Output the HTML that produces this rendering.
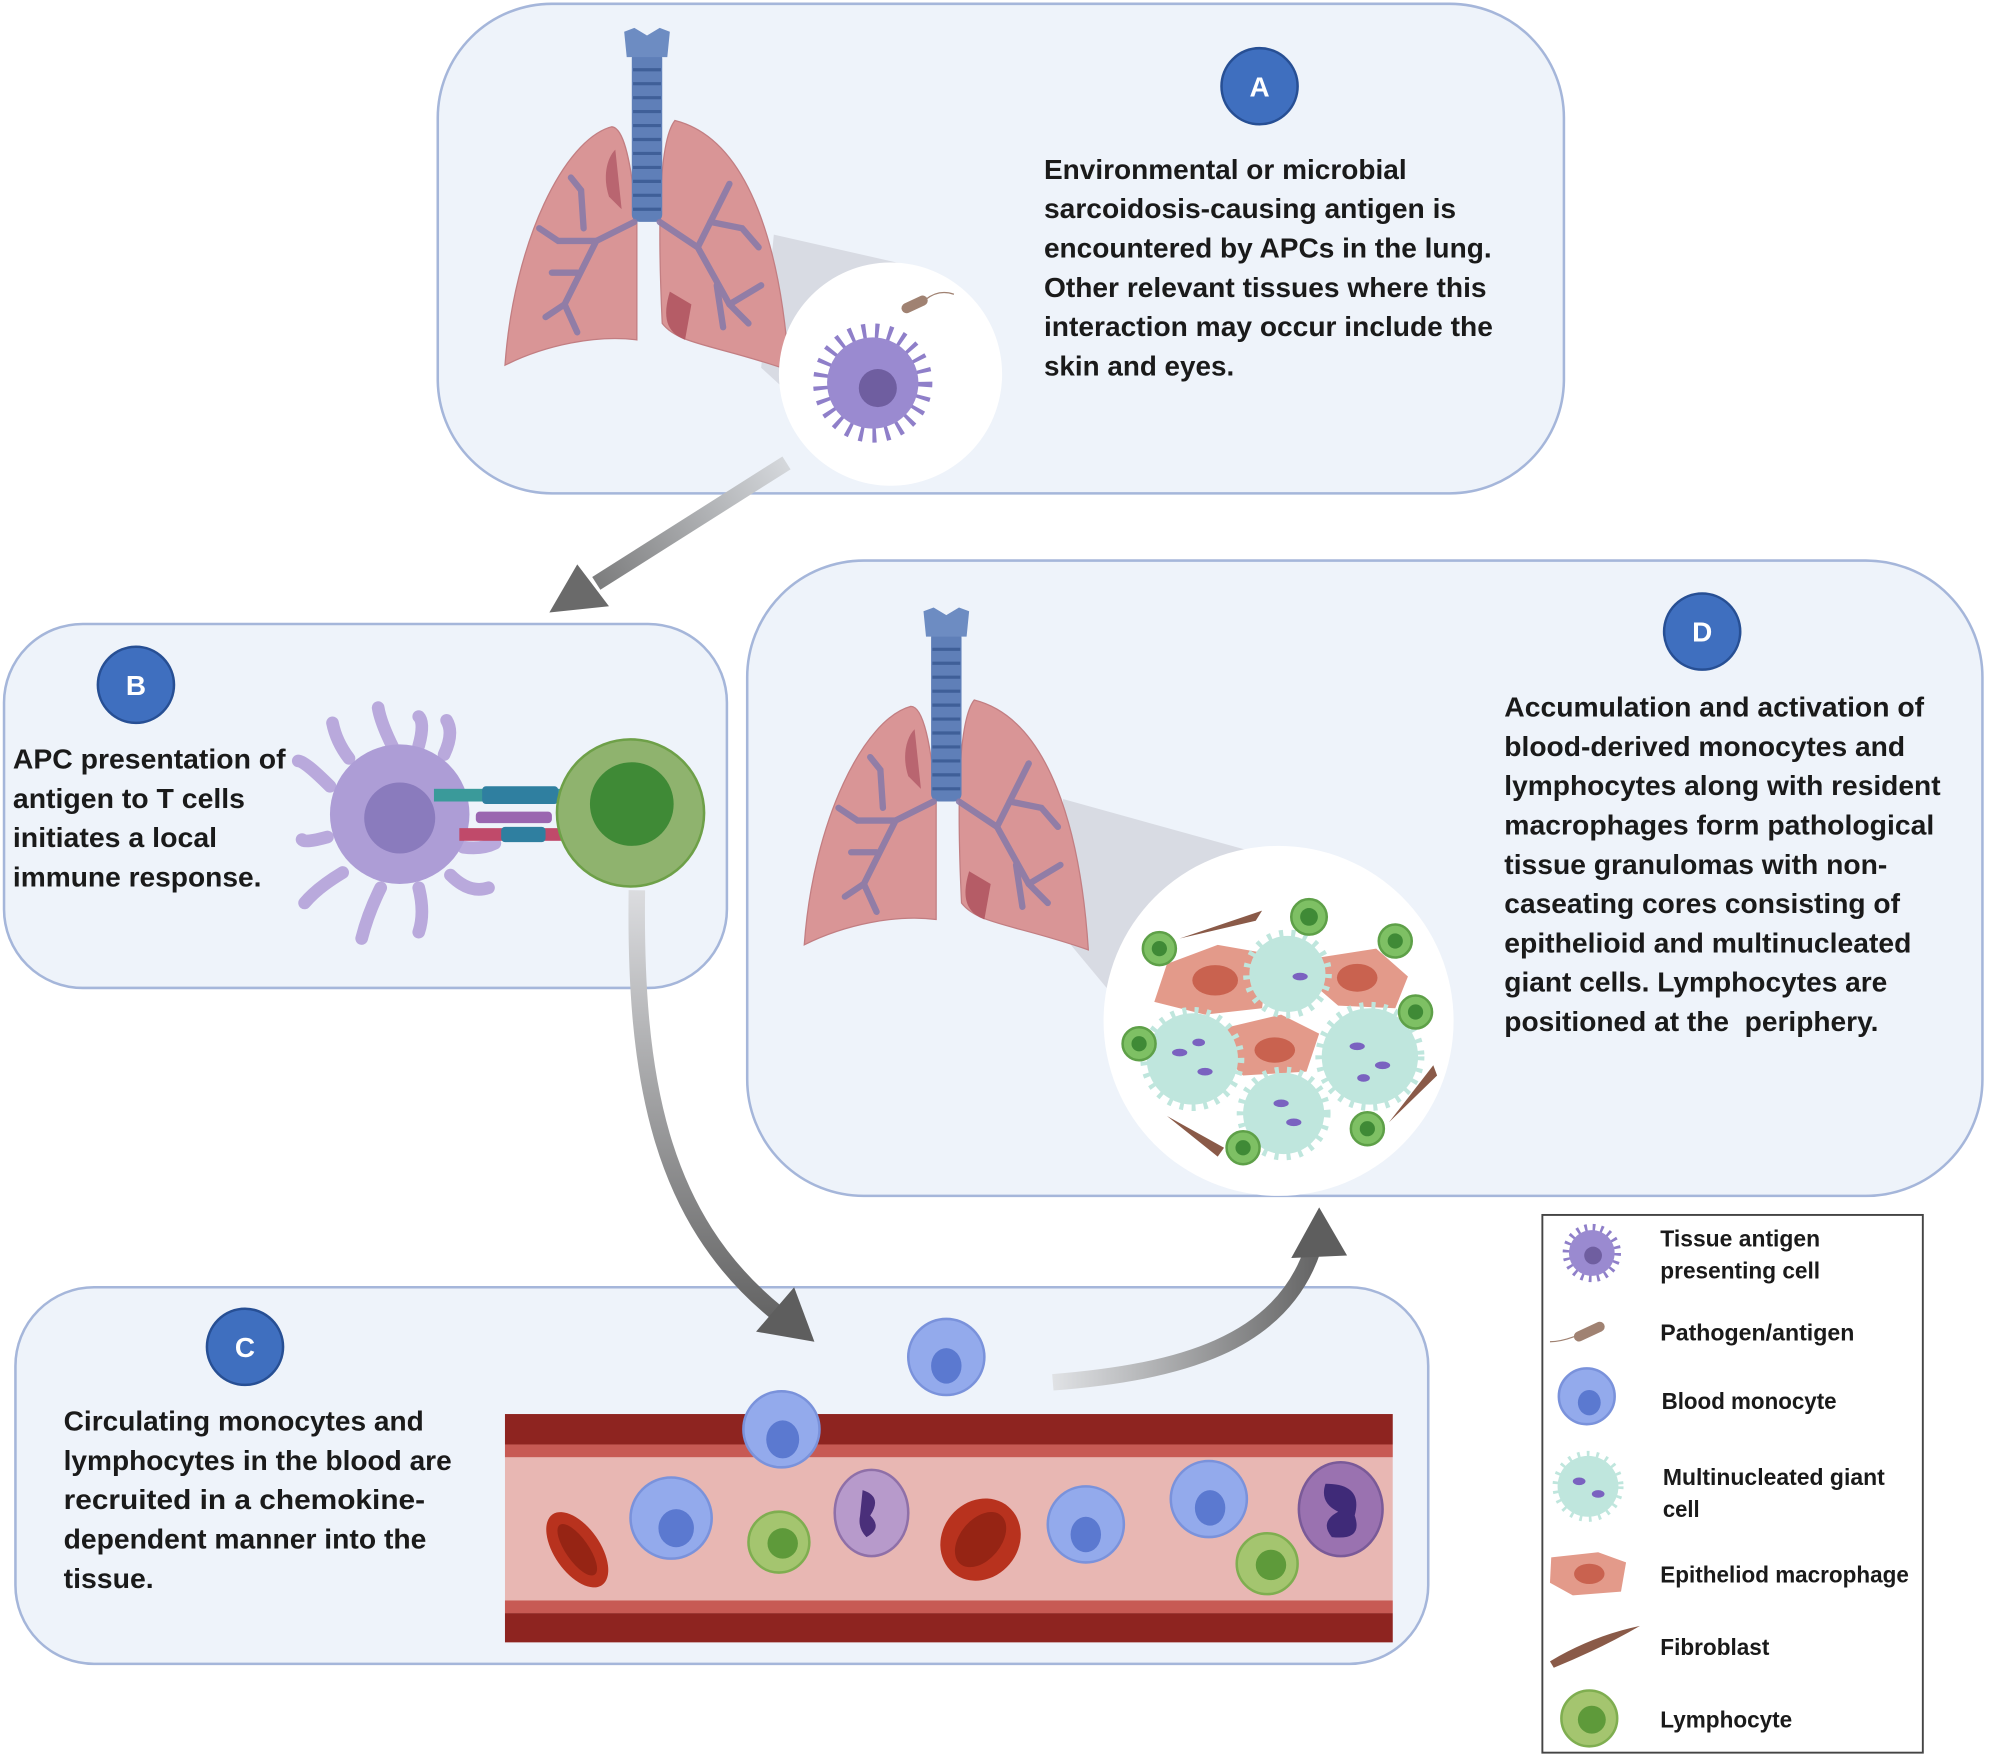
<!DOCTYPE html>
<html><head><meta charset="utf-8"><style>
html,body{margin:0;padding:0;background:#fff}
svg{display:block}
text{font-family:"Liberation Sans",sans-serif;font-weight:bold;fill:#1a1a1a}
</style></head><body>
<svg width="1989" height="1759" viewBox="0 0 1568 1387" xmlns="http://www.w3.org/2000/svg">
<defs>
<linearGradient id="ga" x1="620" y1="365" x2="440" y2="480" gradientUnits="userSpaceOnUse"><stop offset="0" stop-color="#d5d8dc"/><stop offset="1" stop-color="#6a6a6a"/></linearGradient>
<linearGradient id="gb" x1="0" y1="700" x2="0" y2="1055" gradientUnits="userSpaceOnUse"><stop offset="0" stop-color="#dcdde0"/><stop offset="1" stop-color="#5e5e5e"/></linearGradient>
<linearGradient id="gc" x1="830" y1="0" x2="1050" y2="0" gradientUnits="userSpaceOnUse"><stop offset="0" stop-color="#e0e2e5"/><stop offset="1" stop-color="#5e5e5e"/></linearGradient>
<g id="lungs">
<path d="M482,100 C445,110 405,190 398,288 C430,272 470,264 502,268 L502,175 C498,130 492,100 482,100 Z" fill="#d99596" stroke="#c27e82" stroke-width="1"/>
<path d="M485,118 C478,125 475,140 480,155 L490,165 Z" fill="#b96570"/>
<path d="M532,95 C520,110 518,170 522,255 C535,272 565,272 622,292 C616,200 592,110 532,95 Z" fill="#d99596" stroke="#c27e82" stroke-width="1"/>
<path d="M528,230 C522,250 525,262 540,268 L545,240 Z" fill="#b55c66"/>
<rect x="498" y="40" width="24" height="135" rx="6" fill="#5f7fb8"/>
<path d="M492,25 L500,22 L510,28 L520,22 L528,25 L526,45 L494,45 Z" fill="#6d8cc2"/>
<g stroke="#3f5f98" stroke-width="2.5">
<line x1="499" y1="55" x2="521" y2="55"/><line x1="499" y1="66" x2="521" y2="66"/><line x1="499" y1="77" x2="521" y2="77"/><line x1="499" y1="88" x2="521" y2="88"/><line x1="499" y1="99" x2="521" y2="99"/><line x1="499" y1="110" x2="521" y2="110"/><line x1="499" y1="121" x2="521" y2="121"/><line x1="499" y1="132" x2="521" y2="132"/><line x1="499" y1="143" x2="521" y2="143"/><line x1="499" y1="154" x2="521" y2="154"/><line x1="499" y1="165" x2="521" y2="165"/></g>
<g stroke="#8a7ba8" stroke-width="5" fill="none" stroke-linecap="round" opacity="0.9">
<path d="M500,175 L470,190 L445,240 L430,250"/><path d="M470,190 L440,190 L425,180"/><path d="M455,215 L435,215"/><path d="M460,180 L458,150 L450,140"/><path d="M445,240 L455,262"/>
<path d="M520,175 L550,195 L575,240 L590,255"/><path d="M550,195 L565,165 L575,145"/><path d="M560,175 L585,180 L598,195"/><path d="M575,240 L600,225"/><path d="M565,225 L570,258"/>
</g>
</g>
</defs>

<!-- Boxes -->
<rect x="345" y="3" width="888" height="386" rx="90" fill="#eef3fa" stroke="#a5b6da" stroke-width="2"/>
<rect x="3" y="492" width="570" height="287" rx="62" fill="#eef3fa" stroke="#a5b6da" stroke-width="2"/>
<rect x="589" y="442" width="974" height="501" rx="92" fill="#eef3fa" stroke="#a5b6da" stroke-width="2"/>
<rect x="12" y="1015" width="1114" height="297" rx="62" fill="#eef3fa" stroke="#a5b6da" stroke-width="2"/>
<rect x="1216" y="958" width="300" height="424" fill="#fff" stroke="#444" stroke-width="1.5"/>

<!-- Panel A -->
<path d="M610,185 L720,210 L702,383 L600,290 Z" fill="#c9ccd3" opacity="0.6"/>
<use href="#lungs"/>
<circle cx="702" cy="295" r="88" fill="#fff"/>
<circle cx="688" cy="302" r="40" fill="none" stroke="#8f7fc9" stroke-width="14" stroke-dasharray="3 7"/>
<circle cx="688" cy="302" r="36" fill="#9a8ad0"/>
<circle cx="692" cy="306" r="15" fill="#6f5ea0"/>
<rect x="710" y="236" width="22" height="8" rx="4" fill="#a08272" transform="rotate(-25 721 240)"/>
<path d="M730,236 Q740,228 752,232" stroke="#a08272" fill="none" stroke-width="1"/>
<circle cx="993" cy="68" r="30" fill="#3f6fbf" stroke="#274f94" stroke-width="2"/>
<text x="993" y="76" font-size="22" text-anchor="middle" style="fill:#fff">A</text>
<g font-size="22">
<text x="823" y="141" textLength="286" lengthAdjust="spacingAndGlyphs">Environmental or microbial</text>
<text x="823" y="172" textLength="325" lengthAdjust="spacingAndGlyphs">sarcoidosis-causing antigen is</text>
<text x="823" y="203" textLength="353" lengthAdjust="spacingAndGlyphs">encountered by APCs in the lung.</text>
<text x="823" y="234" textLength="349" lengthAdjust="spacingAndGlyphs">Other relevant tissues where this</text>
<text x="823" y="265" textLength="354" lengthAdjust="spacingAndGlyphs">interaction may occur include the</text>
<text x="823" y="296" textLength="150" lengthAdjust="spacingAndGlyphs">skin and eyes.</text>
</g>

<!-- Arrow A->B -->
<path d="M620,365 L470,460" stroke="url(#ga)" stroke-width="12" fill="none"/>
<path d="M433,483 L455,445 L480,478 Z" fill="#6a6a6a"/>

<!-- Panel B -->
<circle cx="107" cy="540" r="30" fill="#3f6fbf" stroke="#274f94" stroke-width="2"/>
<text x="107" y="548" font-size="22" text-anchor="middle" style="fill:#fff">B</text>
<g font-size="22">
<text x="10" y="606" textLength="215" lengthAdjust="spacingAndGlyphs">APC presentation of</text>
<text x="10" y="637" textLength="183" lengthAdjust="spacingAndGlyphs">antigen to T cells</text>
<text x="10" y="668" textLength="161" lengthAdjust="spacingAndGlyphs">initiates a local</text>
<text x="10" y="699" textLength="196" lengthAdjust="spacingAndGlyphs">immune response.</text>
</g>
<g stroke="#b9a9dc" stroke-width="10" stroke-linecap="round" fill="none">
<path d="M310,590 Q300,570 298,558"/><path d="M330,588 Q335,570 330,565"/><path d="M350,595 Q358,578 352,568"/><path d="M275,598 Q265,585 262,570"/>
<path d="M260,620 Q240,600 235,600"/><path d="M258,660 Q240,665 238,662"/><path d="M270,688 Q250,700 240,712"/><path d="M300,700 Q290,720 285,740"/>
<path d="M330,700 Q335,720 330,735"/><path d="M355,690 Q370,705 385,700"/><path d="M365,668 Q380,670 390,665"/>
</g>
<circle cx="315" cy="642" r="55" fill="#ad9dd6"/>
<circle cx="315" cy="645" r="28" fill="#8a7bbd"/>
<g>
<rect x="342" y="622" width="112" height="10" fill="#3a9a9a"/>
<rect x="380" y="620" width="60" height="14" rx="3" fill="#2f7fa0"/>
<rect x="375" y="640" width="60" height="9" rx="3" fill="#9a66b0"/>
<rect x="362" y="653" width="90" height="10" fill="#c04a6a"/>
<rect x="395" y="652" width="35" height="12" rx="3" fill="#2f7fa0"/>
</g>
<circle cx="497" cy="641" r="58" fill="#8fb36e" stroke="#6ea048" stroke-width="2"/>
<circle cx="498" cy="634" r="33" fill="#3f8a36"/>

<!-- Arrow B->C -->
<path d="M502,702 C500,850 520,960 612,1035" stroke="url(#gb)" stroke-width="13" fill="none"/>
<path d="M642,1058 L596,1050 L626,1015 Z" fill="#5e5e5e"/>

<!-- Panel D -->
<path d="M838,630 L1000,675 L1008,942 L840,740 Z" fill="#c9ccd3" opacity="0.6"/>
<use href="#lungs" transform="translate(236,457)"/>
<circle cx="1008" cy="805" r="138" fill="#fff"/>
<g>
<path d="M920,760 L960,745 L1000,752 L995,795 L950,800 L910,790 Z" fill="#e39a8a"/>
<ellipse cx="958" cy="773" rx="18" ry="12" fill="#c9624f"/>
<path d="M1040,755 L1085,748 L1110,770 L1100,795 L1055,793 L1040,780 Z" fill="#e39a8a"/>
<ellipse cx="1070" cy="771" rx="16" ry="11" fill="#c9624f"/>
<path d="M968,810 L1010,800 L1040,815 L1030,845 L980,848 L962,830 Z" fill="#e39a8a"/>
<ellipse cx="1005" cy="828" rx="16" ry="10" fill="#c9624f"/>
<circle cx="1015" cy="768" r="30" fill="#bfe6dd" stroke="#bfe6dd" stroke-width="10" stroke-dasharray="3 6"/>
<circle cx="940" cy="835" r="36" fill="#bfe6dd" stroke="#bfe6dd" stroke-width="10" stroke-dasharray="3 6"/>
<circle cx="1080" cy="833" r="38" fill="#bfe6dd" stroke="#bfe6dd" stroke-width="10" stroke-dasharray="3 6"/>
<circle cx="1012" cy="878" r="32" fill="#bfe6dd" stroke="#bfe6dd" stroke-width="10" stroke-dasharray="3 6"/>
<g fill="#7a62c0">
<ellipse cx="930" cy="830" rx="6" ry="3"/><ellipse cx="950" cy="845" rx="6" ry="3"/><ellipse cx="945" cy="822" rx="5" ry="3"/>
<ellipse cx="1070" cy="825" rx="6" ry="3"/><ellipse cx="1090" cy="840" rx="6" ry="3"/><ellipse cx="1075" cy="850" rx="5" ry="3"/>
<ellipse cx="1010" cy="870" rx="6" ry="3"/><ellipse cx="1020" cy="885" rx="6" ry="3"/><ellipse cx="1025" cy="770" rx="6" ry="3"/>
</g>
<g fill="#7ec064" stroke="#5ea048" stroke-width="2">
<circle cx="1032" cy="723" r="14"/><circle cx="914" cy="748" r="13"/><circle cx="1100" cy="742" r="13"/><circle cx="1116" cy="798" r="13"/><circle cx="898" cy="823" r="13"/><circle cx="980" cy="905" r="13"/><circle cx="1078" cy="890" r="13"/>
</g>
<g fill="#3f8a36"><circle cx="1032" cy="723" r="7"/><circle cx="914" cy="748" r="6"/><circle cx="1100" cy="742" r="6"/><circle cx="1116" cy="798" r="6"/><circle cx="898" cy="823" r="6"/><circle cx="980" cy="905" r="6"/><circle cx="1078" cy="890" r="6"/></g>
<path d="M930,740 L995,718 L990,726 Z" fill="#8a5a48"/>
<path d="M920,880 L965,905 L960,912 Z" fill="#8a5a48"/>
<path d="M1095,885 L1130,840 L1133,848 Z" fill="#8a5a48"/>
</g>
<circle cx="1342" cy="498" r="30" fill="#3f6fbf" stroke="#274f94" stroke-width="2"/>
<text x="1342" y="506" font-size="22" text-anchor="middle" style="fill:#fff">D</text>
<g font-size="22">
<text x="1186" y="565" textLength="331" lengthAdjust="spacingAndGlyphs">Accumulation and activation of</text>
<text x="1186" y="596" textLength="316" lengthAdjust="spacingAndGlyphs">blood-derived monocytes and</text>
<text x="1186" y="627" textLength="344" lengthAdjust="spacingAndGlyphs">lymphocytes along with resident</text>
<text x="1186" y="658" textLength="339" lengthAdjust="spacingAndGlyphs">macrophages form pathological</text>
<text x="1186" y="689" textLength="302" lengthAdjust="spacingAndGlyphs">tissue granulomas with non-</text>
<text x="1186" y="720" textLength="312" lengthAdjust="spacingAndGlyphs">caseating cores consisting of</text>
<text x="1186" y="751" textLength="321" lengthAdjust="spacingAndGlyphs">epithelioid and multinucleated</text>
<text x="1186" y="782" textLength="302" lengthAdjust="spacingAndGlyphs">giant cells. Lymphocytes are</text>
<text x="1186" y="813" textLength="295" lengthAdjust="spacingAndGlyphs" xml:space="preserve">positioned at the  periphery.</text>
</g>

<!-- Arrow C->D -->
<path d="M830,1090 C930,1082 1010,1060 1035,985" stroke="url(#gc)" stroke-width="13" fill="none"/>
<path d="M1040,952 L1018,992 L1062,990 Z" fill="#5e5e5e"/>

<!-- Panel C -->
<circle cx="193" cy="1062" r="30" fill="#3f6fbf" stroke="#274f94" stroke-width="2"/>
<text x="193" y="1070" font-size="22" text-anchor="middle" style="fill:#fff">C</text>
<g font-size="22">
<text x="50" y="1128" textLength="284" lengthAdjust="spacingAndGlyphs">Circulating monocytes and</text>
<text x="50" y="1159" textLength="306" lengthAdjust="spacingAndGlyphs">lymphocytes in the blood are</text>
<text x="50" y="1190" textLength="285" lengthAdjust="spacingAndGlyphs">recruited in a chemokine-</text>
<text x="50" y="1221" textLength="286" lengthAdjust="spacingAndGlyphs">dependent manner into the</text>
<text x="50" y="1252" textLength="71" lengthAdjust="spacingAndGlyphs">tissue.</text>
</g>
<rect x="398" y="1115" width="700" height="180" fill="#e8b7b3"/>
<rect x="398" y="1115" width="700" height="24" fill="#8e2420"/>
<rect x="398" y="1139" width="700" height="10" fill="#c75a54"/>
<rect x="398" y="1262" width="700" height="10" fill="#c75a54"/>
<rect x="398" y="1272" width="700" height="23" fill="#8e2420"/>
<g>
<ellipse cx="455" cy="1222" rx="18" ry="34" fill="#b8321e" transform="rotate(-35 455 1222)"/>
<ellipse cx="455" cy="1222" rx="9" ry="24" fill="#962414" transform="rotate(-35 455 1222)"/>
<ellipse cx="773" cy="1214" rx="30" ry="34" fill="#b8321e" transform="rotate(40 773 1214)"/>
<ellipse cx="773" cy="1214" rx="16" ry="25" fill="#962414" transform="rotate(40 773 1214)"/>
</g>
<g fill="#93aaec" stroke="#7a92db" stroke-width="2">
<circle cx="616" cy="1127" r="30"/><circle cx="746" cy="1070" r="30"/><circle cx="529" cy="1197" r="32"/><circle cx="856" cy="1202" r="30"/><circle cx="953" cy="1182" r="30"/>
</g>
<g fill="#5b79d0"><ellipse cx="617" cy="1135" rx="13" ry="15"/><ellipse cx="746" cy="1077" rx="12" ry="14"/><ellipse cx="533" cy="1205" rx="14" ry="15"/><ellipse cx="856" cy="1210" rx="12" ry="14"/><ellipse cx="954" cy="1189" rx="12" ry="14"/></g>
<g fill="#a4c56f" stroke="#7fae50" stroke-width="2"><circle cx="614" cy="1216" r="24"/><circle cx="999" cy="1233" r="24"/></g>
<g fill="#5e9a3a"><circle cx="617" cy="1217" r="12"/><circle cx="1002" cy="1234" r="12"/></g>
<ellipse cx="687" cy="1193" rx="29" ry="34" fill="#b79acb" stroke="#8f70a8" stroke-width="2"/>
<path d="M680,1175 Q696,1180 686,1195 Q696,1205 683,1212 Q676,1205 678,1195 Z" fill="#4a2f7a"/>
<ellipse cx="1057" cy="1190" rx="33" ry="37" fill="#9a72b0" stroke="#7a5a98" stroke-width="2"/>
<path d="M1045,1170 Q1075,1170 1068,1195 Q1075,1215 1050,1212 Q1040,1200 1055,1192 Q1040,1185 1045,1170 Z" fill="#3f2a78"/>

<!-- Legend -->
<circle cx="1255" cy="988" r="19" fill="none" stroke="#8f7fc9" stroke-width="8" stroke-dasharray="2 4"/>
<circle cx="1255" cy="988" r="18" fill="#9a8ad0"/>
<circle cx="1256" cy="990" r="7" fill="#6f5ea0"/>
<rect x="1240" y="1046" width="26" height="8" rx="4" fill="#a08272" transform="rotate(-25 1253 1050)"/>
<path d="M1241,1054 Q1230,1058 1222,1058" stroke="#a08272" fill="none"/>
<circle cx="1251" cy="1101" r="22" fill="#93aaec" stroke="#7a92db" stroke-width="2"/>
<ellipse cx="1253" cy="1106" rx="9" ry="10" fill="#5b79d0"/>
<circle cx="1252" cy="1172" r="24" fill="#bfe6dd" stroke="#bfe6dd" stroke-width="8" stroke-dasharray="2 5"/>
<g fill="#7a62c0"><ellipse cx="1245" cy="1168" rx="5" ry="3"/><ellipse cx="1260" cy="1178" rx="5" ry="3"/></g>
<path d="M1223,1228 L1260,1224 L1282,1232 L1278,1255 L1240,1258 L1222,1248 Z" fill="#e39a8a"/>
<ellipse cx="1253" cy="1241" rx="12" ry="8" fill="#c9624f"/>
<path d="M1222,1310 Q1255,1290 1293,1282 Q1262,1300 1225,1315 Z" fill="#8a5a48"/>
<circle cx="1253" cy="1355" r="22" fill="#a4c56f" stroke="#7fae50" stroke-width="2"/>
<circle cx="1255" cy="1356" r="11" fill="#5e9a3a"/>
<g font-size="18">
<text x="1309" y="983" textLength="126" lengthAdjust="spacingAndGlyphs">Tissue antigen</text>
<text x="1309" y="1008" textLength="126" lengthAdjust="spacingAndGlyphs">presenting cell</text>
<text x="1309" y="1057" textLength="153" lengthAdjust="spacingAndGlyphs">Pathogen/antigen</text>
<text x="1310" y="1111" textLength="138" lengthAdjust="spacingAndGlyphs">Blood monocyte</text>
<text x="1311" y="1171" textLength="175" lengthAdjust="spacingAndGlyphs">Multinucleated giant</text>
<text x="1311" y="1196" textLength="29" lengthAdjust="spacingAndGlyphs">cell</text>
<text x="1309" y="1248" textLength="196" lengthAdjust="spacingAndGlyphs">Epitheliod macrophage</text>
<text x="1309" y="1305" textLength="86" lengthAdjust="spacingAndGlyphs">Fibroblast</text>
<text x="1309" y="1362" textLength="104" lengthAdjust="spacingAndGlyphs">Lymphocyte</text>
</g>
</svg>
</body></html>
